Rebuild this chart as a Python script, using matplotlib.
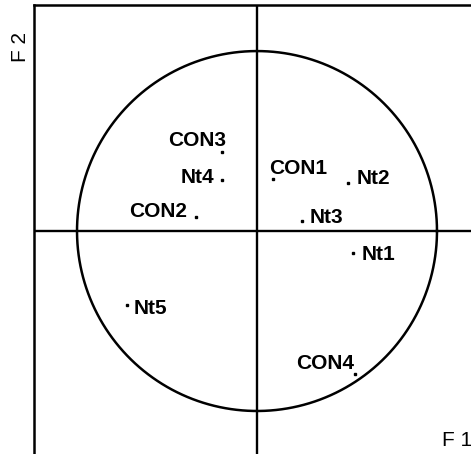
import numpy as np
import matplotlib
matplotlib.use("Agg")
import matplotlib.pyplot as plt

plt.rcParams['font.family'] = ['Liberation Sans', 'DejaVu Sans']

# variable coordinates on the F1 / F2 correlation circle
names = ['CON1', 'Nt2', 'Nt3', 'Nt1', 'CON3', 'Nt4', 'CON2', 'Nt5', 'CON4']
f1 = [0.087, 0.506, 0.248, 0.532, -0.196, -0.196, -0.339, -0.724, 0.544]
f2 = [0.289, 0.267, 0.057, -0.121, 0.437, 0.281, 0.078, -0.411, -0.794]

# label placement (pixel offset from the point, alignment)
offs = [(-4, 5), (9, -1), (8, -2.5), (9, -7), (4, 6), (-7, -3), (-9, 0), (6.5, -9.5), (-1, 5)]
has = ['left', 'left', 'left', 'left', 'right', 'right', 'right', 'left', 'right']

W, H = 471, 454
fig = plt.figure(figsize=(W / 100, H / 100), dpi=100)
ax = fig.add_axes([34 / W, 0, (W - 34) / W, (H - 5) / H])
ax.set_xlim(-1.239, 1.189)
ax.set_ylim(-1.239, 1.256)

for s in ['right', 'bottom']:
    ax.spines[s].set_visible(False)
for s in ['left', 'top']:
    ax.spines[s].set_linewidth(1.8)
    ax.spines[s].set_color('black')
ax.set_xticks([])
ax.set_yticks([])

ax.axhline(0, color='black', lw=1.7)
ax.axvline(0, color='black', lw=1.7)

t = np.linspace(0, 2 * np.pi, 400)
ax.plot(np.cos(t), np.sin(t), color='black', lw=1.8)

ax.plot(f1, f2, 's', color='black', ms=1.9, ls='none')
for n, x, y, o, h in zip(names, f1, f2, offs, has):
    ax.annotate(n, (x, y), xytext=o, textcoords='offset pixels',
                ha=h, va='baseline', fontsize=15, fontweight='bold')

ax.text(1.026, -1.194, 'F 1', fontsize=15, ha='left', va='baseline')
fig.text(20 / W, 1 - 47.5 / H, 'F 2', fontsize=15, rotation=90,
         ha='center', va='center')

fig.savefig('out.png', dpi=100)
